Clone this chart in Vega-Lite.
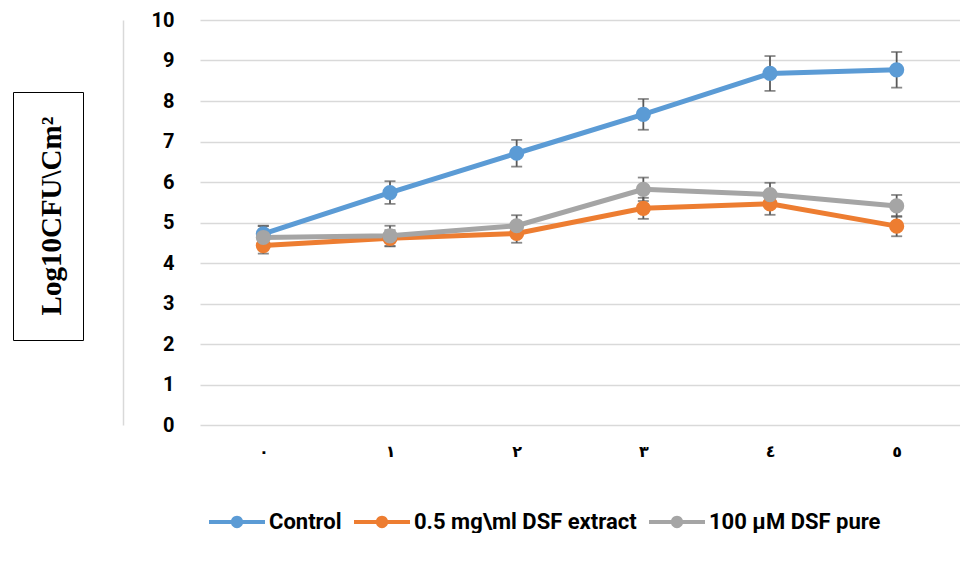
{
  "$schema": "https://vega.github.io/schema/vega-lite/v6.json",
  "background": "white",
  "padding": {"left": 12, "top": 10, "right": 0, "bottom": 0},
  "config": {"view": {"stroke": null}},
  "spacing": 39,
  "hconcat": [
    {
      "spacing": 20,
      "vconcat": [
        {
          "width": 70,
          "height": 51,
          "data": {"values": []},
          "mark": {"type": "text"},
          "encoding": {}
        },
        {
          "width": 70,
          "height": 248,
          "view": {"stroke": "black", "strokeWidth": 1},
          "data": {"values": [{"label": "Log10CFU\\Cm²"}]},
          "mark": {"type": "text", "angle": 270, "font": "Liberation Serif", "fontWeight": "bold", "fontSize": 29, "align": "center", "baseline": "middle", "dy": 4, "color": "black"},
          "encoding": {"text": {"field": "label", "type": "nominal"}}
        }
      ]
    },
    {
      "width": 760,
      "height": 405,
      "data": {
        "values": [
          {"day": "٠", "series": "Control", "mean": 4.72, "err": 0.2},
          {"day": "١", "series": "Control", "mean": 5.74, "err": 0.28},
          {"day": "٢", "series": "Control", "mean": 6.71, "err": 0.33},
          {"day": "٣", "series": "Control", "mean": 7.67, "err": 0.38},
          {"day": "٤", "series": "Control", "mean": 8.68, "err": 0.43},
          {"day": "٥", "series": "Control", "mean": 8.77, "err": 0.44},
          {"day": "٠", "series": "0.5 mg\\ml DSF extract", "mean": 4.43, "err": 0.2},
          {"day": "١", "series": "0.5 mg\\ml DSF extract", "mean": 4.61, "err": 0.2},
          {"day": "٢", "series": "0.5 mg\\ml DSF extract", "mean": 4.73, "err": 0.23},
          {"day": "٣", "series": "0.5 mg\\ml DSF extract", "mean": 5.35, "err": 0.26},
          {"day": "٤", "series": "0.5 mg\\ml DSF extract", "mean": 5.46, "err": 0.27},
          {"day": "٥", "series": "0.5 mg\\ml DSF extract", "mean": 4.91, "err": 0.25},
          {"day": "٠", "series": "100 µM DSF pure", "mean": 4.63, "err": 0.28},
          {"day": "١", "series": "100 µM DSF pure", "mean": 4.67, "err": 0.25},
          {"day": "٢", "series": "100 µM DSF pure", "mean": 4.92, "err": 0.26},
          {"day": "٣", "series": "100 µM DSF pure", "mean": 5.82, "err": 0.29},
          {"day": "٤", "series": "100 µM DSF pure", "mean": 5.69, "err": 0.29},
          {"day": "٥", "series": "100 µM DSF pure", "mean": 5.41, "err": 0.27}
        ]
      },
      "layer": [
        {
          "mark": {"type": "errorbar", "ticks": {"size": 11, "thickness": 1.8, "color": "#595959"}, "rule": {"strokeWidth": 1.8, "color": "#595959"}},
          "encoding": {
            "x": {"field": "day", "type": "ordinal", "sort": ["٠", "١", "٢", "٣", "٤", "٥"], "scale": {"type": "point", "padding": 0.5},
              "axis": {"title": null, "labelFont": "DejaVu Sans", "labelFontWeight": "bold", "labelFontSize": 16, "labelColor": "black", "labelAngle": 0, "labelPadding": 18, "domain": false, "ticks": false, "grid": false}},
            "y": {"field": "mean", "type": "quantitative", "scale": {"domain": [0, 10]},
              "axis": {"orient": "left", "offset": 77, "title": null, "labels": false, "ticks": false, "grid": false, "domain": true, "domainColor": "#D9D9D9", "domainWidth": 1.5}},
            "yError": {"field": "err"}
          }
        },
        {
          "mark": {"type": "line", "strokeWidth": 5, "point": {"filled": true, "size": 230, "opacity": 1}},
          "encoding": {
            "x": {"field": "day", "type": "ordinal", "sort": ["٠", "١", "٢", "٣", "٤", "٥"], "scale": {"type": "point", "padding": 0.5},
              "axis": {"title": null, "labelFont": "DejaVu Sans", "labelFontWeight": "bold", "labelFontSize": 16, "labelColor": "black", "labelAngle": 0, "labelPadding": 18, "domain": false, "ticks": false, "grid": false}},
            "y": {"field": "mean", "type": "quantitative", "scale": {"domain": [0, 10]},
              "axis": {"orient": "left", "title": null, "values": [0, 1, 2, 3, 4, 5, 6, 7, 8, 9, 10], "labelFont": "Roboto", "labelFontWeight": "bold", "labelFontSize": 20, "labelColor": "black", "labelPadding": 26, "ticks": false, "domain": false, "grid": true, "gridColor": "#D9D9D9", "gridWidth": 1.5}},
            "color": {"field": "series", "type": "nominal",
              "scale": {"domain": ["Control", "0.5 mg\\ml DSF extract", "100 µM DSF pure"], "range": ["#5B9BD5", "#ED7D31", "#A5A5A5"]},
              "legend": {"orient": "none", "legendX": 196, "legendY": 474, "direction": "horizontal", "title": null,
                "symbolType": "M-1,-0.075L1,-0.075L1,0.075L-1,0.075Z M-0.22,0A0.22,0.22,0,1,1,0.22,0A0.22,0.22,0,1,1,-0.22,0Z",
                "symbolSize": 3136, "symbolStrokeWidth": 0, "symbolOpacity": 1,
                "labelFont": "Roboto", "labelFontWeight": "bold", "labelFontSize": 22, "labelColor": "black", "labelOffset": 4, "columnPadding": 12,
                "labelLimit": 400,
                "encode": {"symbols": {"update": {"fill": {"scale": "color", "field": "value"}, "strokeWidth": {"value": 0}}}}}}
          }
        }
      ],
      "resolve": {"axis": {"y": "independent"}}
    }
  ]
}
